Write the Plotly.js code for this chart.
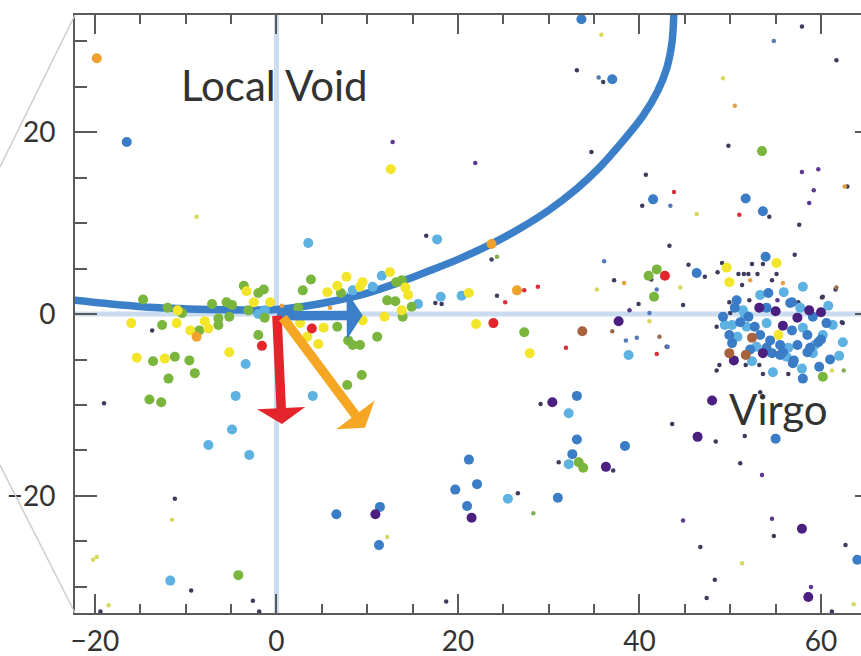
<!DOCTYPE html>
<html>
<head>
<meta charset="utf-8">
<script src="https://cdn.plot.ly/plotly-3.0.1.min.js"></script>
<style>
html,body{margin:0;padding:0;overflow:hidden;background:#fff;}
#chart{width:900px;height:656px;}
</style>
</head>
<body>
<div id="chart"></div>
<script>
// ---------- DATA (supergalactic-like coordinates, Mpc) ----------
const xTickVals = [-20, 0, 20, 40, 60];
const yTickVals = [-20, 0, 20];

// velocity-flow curve
const curveX = [-23, -22.2, -14.8, -7.5, -3.0, 0.0, 3.1, 6.2, 10.0, 13.6, 17.0, 20.0, 23.7, 27.0, 30.0, 33.0, 35.5, 38.0, 40.4, 42.0, 43.0, 43.6, 43.8, 43.85];
const curveY = [1.6, 1.5, 0.8, 0.5, 0.45, 0.5, 0.85, 1.4, 2.3, 3.5, 4.8, 6.0, 7.7, 9.5, 11.4, 13.7, 16.0, 18.8, 21.8, 24.5, 27.0, 30.0, 33.5, 36.0];

// motion vectors
const arrowStartX = [0.05, 0.05, 0.7];
const arrowStartY = [-0.2, -0.2, -0.4];
const arrowEndX = [9.5, 0.6, 9.75];
const arrowEndY = [-0.15, -12.1, -12.5];

// galaxies (big dots) by colour group
const yellowX = [-16.0,-10.9,-11.0,-9.5,-7.9,-7.5,-3.3,-2.5,-0.7,-5.2,-15.4,-12.3,2.6,3.4,4.6,5.2,5.6,6.7,7.7,9.5,9.2,9.5,12.5,14.2,14.5,13.8,11.9,21.2,22.0,27.9,12.6,49.6,49.9,55.1,55.3];
const yellowY = [-1.0,0.4,-1.0,-1.8,-0.8,-1.6,2.5,1.3,1.3,-4.2,-4.8,-4.9,-1.0,-2.5,-3.3,-1.5,2.4,3.1,4.1,3.5,3.0,-0.7,4.6,2.9,2.1,0.4,-0.3,2.3,-1.1,-4.3,15.9,5.1,3.5,5.6,-2.3];

const greenX = [-14.7,-12.0,-10.4,-12.6,-8.5,-6.4,-6.4,-7.1,-5.5,-4.9,-5.2,-3.6,-2.0,-1.4,-3.1,-1.3,-2.0,-13.6,-11.2,-9.6,-11.9,-9.0,-14.0,-12.7,-4.2,3.8,2.9,7.1,13.2,13.8,12.2,13.1,14.9,13.9,11.1,7.9,8.4,9.2,9.4,7.8,6.7,2.4,27.3,41.9,41.0,41.6,53.5,33.3,33.8,60.2];
const greenY = [1.6,0.7,0.1,-1.2,-1.8,-0.5,-1.2,1.1,1.3,1.0,-0.3,3.1,2.3,2.7,0.4,-0.4,-2.3,-5.2,-4.7,-5.1,-7.1,-6.5,-9.4,-9.7,-28.7,3.8,2.6,2.3,3.5,3.7,1.5,1.4,0.8,-0.3,-2.5,-2.9,-3.4,-3.4,-6.7,-7.8,-1.4,0.7,-2.0,4.9,4.2,1.9,17.9,-16.3,-16.9,-6.9];

const lightBlueX = [-2.0,-1.3,-3.4,-4.5,-4.9,-7.5,-3.0,-11.7,3.5,4.0,8.4,10.6,11.6,15.6,17.7,18.1,20.4,32.2,32.2,25.5,38.8,58.0,53.3,55.9,51.4,61.3,50.2,51.8,54.0,58.0,50.8,60.2,62.4,52.9,56.4,56.2,59.1,54.7,57.7,59.3,49.4,51.6,62.0,52.4,57.9,60.8];
const lightBlueY = [0.0,0.4,-5.5,-9.0,-12.7,-14.4,-15.5,-29.3,7.8,-9.0,2.6,3.0,4.2,1.1,8.2,1.9,2.0,-10.9,-16.5,-20.3,-4.5,3.0,2.1,2.4,0.4,-1.2,-1.2,-1.4,-1.0,-1.5,-2.5,-2.3,-3.1,-3.6,-3.7,-4.7,-4.3,-6.4,0.7,-3.4,-1.2,-0.1,-4.6,-5.2,-6.0,0.9];

const blueX = [-16.5,33.6,37.0,41.5,51.7,53.6,33.1,33.1,32.6,21.2,22.1,19.7,21.0,31.0,6.6,11.4,11.3,38.4,55.0,64.0,53.9,46.3,50.7,54.2,56.8,54.0,50.5,59.1,49.2,51.1,52.7,56.8,58.5,49.9,53.3,54.4,59.7,50.2,54.0,55.5,57.4,58.8,54.6,55.5,56.9,58.0,56.6,60.0,58.5,57.0,55.8,52.0,61.0,60.6,52.2,59.8];
const blueY = [18.9,32.4,25.8,12.6,12.7,11.3,-9.0,-13.8,-15.4,-16.0,-18.7,-19.3,-21.1,-20.2,-22.0,-21.2,-25.4,-14.5,-13.7,-27.0,6.3,4.5,1.5,2.3,1.3,0.7,0.7,-0.3,-0.3,-0.9,-1.4,-1.8,-2.3,-2.3,-2.3,-2.9,-3.1,-3.2,-3.7,-3.4,-3.4,-3.7,-4.3,-4.5,-5.4,-7.1,1.2,-2.8,-4.2,-5.1,-4.2,-0.3,-5.0,-1.0,-3.9,-5.8];

const purpleX = [37.7,30.4,21.5,10.9,36.3,46.4,48.0,57.9,58.6,53.2,55.0,57.4,58.7,60.0,55.8,50.4,53.6];
const purpleY = [-0.8,-9.7,-22.4,-22.0,-16.8,-13.5,-9.5,-23.6,-31.1,0.7,0.3,-0.4,0.4,0.2,-1.3,-5.1,-4.3];

const redX = [-1.6,3.9,23.9,42.8];
const redY = [-3.5,-1.6,-1.0,4.2];

const orangeX = [-19.8,23.7,26.5,-8.8];
const orangeY = [28.1,7.7,2.6,-2.5];

const brownX = [33.7,49.9,51.7,52.4];
const brownY = [-1.9,-4.3,-4.5,-2.6];

// faint galaxies (tiny dots) by colour group
const tinyDarkX = [33.1,34.7,40.7,40.3,49.8,61.7,54.3,23.7,18.2,17.5,24.3,37.2,41.3,39.9,43.3,29.1,31.1,26.6,18.7,37.1,43.6,48.4,51.6,51.1,46.7,48.3,47.4,54.8,62.7,61.2,-19.0,-13.7,-9.4,-2.6,-1.9,-19.4,-11.2,57.6,45.4,47.2,48.6,44.8,43.0,61.6,57.1,57.9,62.9,16.5,36.0,49.9,52.1,57.5,60.1,62.4,50.0,48.5,48.8,48.5,51.7,53.2,56.4,53.6,53.3,60.2,62.3,50.9,51.5,52.0,53.0,51.3,52.4,53.6,55.1,54.6,49.1];
const tinyDarkY = [26.8,17.8,15.3,11.9,18.5,27.9,10.7,6.0,1.1,1.2,2.0,3.7,3.8,1.1,7.5,-9.9,-16.3,-19.7,-31.6,-17.2,-12.1,-14.0,-13.4,-16.4,-25.6,-29.2,-31.2,-24.4,-25.4,-32.7,-9.8,-1.8,-30.4,-31.5,-32.7,-32.7,-20.3,9.8,5.4,4.1,4.6,1.0,-3.6,2.7,6.5,31.6,14.0,8.6,25.5,1.3,1.5,1.3,1.8,-1.0,0.1,-1.4,-5.6,-6.2,-5.6,-5.6,-6.6,-6.6,-8.6,1.9,-0.9,4.4,4.4,4.4,4.4,3.2,5.5,5.5,4.4,3.7,5.6];

const tinyPurpleX = [12.8,21.9,57.9,59.7,59.2,58.7,38.9,53.5,44.8,54.6,58.9,55.2];
const tinyPurpleY = [18.9,16.6,15.6,15.9,13.6,12.2,0.4,-17.7,-22.7,-22.5,-30.0,1.5];

const tinyBlueX = [54.8,36.1,41.9,38.5,39.7,43.1,41.1,35.5,43.4];
const tinyBlueY = [30.0,5.8,2.7,-2.9,-2.6,-3.6,0.1,26.0,11.9];

const tinyRedX = [43.8,51.0,25.2,27.3,28.8,31.9,41.9];
const tinyRedY = [13.4,10.9,1.3,2.6,3.0,-3.7,-4.4];

const tinyOrangeX = [50.5,38.3,62.6,52.2,55.8,5.9,0.6];
const tinyOrangeY = [22.9,3.4,14.0,3.7,3.4,0.7,0.9];

const tinyYellowX = [35.8,49.2,46.3,35.3,41.1,44.5,12.2,51.3,63.6,-20.2,-19.8,-18.5,-11.5,-8.8,61.2];
const tinyYellowY = [30.7,25.9,11.0,2.7,-0.8,2.9,-24.5,-27.4,-31.9,-27.0,-26.7,-32.0,-22.6,10.7,-6.2];

const tinyGreenX = [28.3,24.3,62.5];
const tinyGreenY = [-21.9,6.3,-6.2];

const tinyBrownX = [37.0,42.2,61.7];
const tinyBrownY = [-1.9,-2.5,2.9];

const labelTexts = ['Local Void', 'Virgo'];
const labelX = [-0.2, 55.3];
const labelY = [25.2, -10.4];

// ---------- STYLE ----------
const FONT = 'Lato, "Noto Sans", sans-serif';
const BIG = 10, TINY = 4.5;
const W = 900, H = 656;
const M = {l: 75, r: 23, t: 15, b: 43};
const XR = [-22.2, 66.17], YR = [-32.86, 32.86];
const sx = (W - M.l - M.r) / (XR[1] - XR[0]);
const sy = (H - M.t - M.b) / (YR[1] - YR[0]);

function dots(x, y, color, size) {
  return {type: 'scatter', mode: 'markers', x: x, y: y, hoverinfo: 'skip',
          marker: {color: color, size: size, line: {width: 0}}, showlegend: false, cliponaxis: true};
}

const traces = [
  {type: 'scatter', mode: 'lines', x: curveX, y: curveY, hoverinfo: 'skip', showlegend: false,
   line: {color: '#3c7fc9', width: 7.5, shape: 'spline', smoothing: 0.8}},
  dots(tinyDarkX, tinyDarkY, '#3c3c5c', TINY),
  dots(tinyPurpleX, tinyPurpleY, '#5a3a8c', TINY),
  dots(tinyBlueX, tinyBlueY, '#5578b8', TINY),
  dots(tinyRedX, tinyRedY, '#d8303a', TINY),
  dots(tinyOrangeX, tinyOrangeY, '#e9a040', TINY),
  dots(tinyYellowX, tinyYellowY, '#d8d860', TINY),
  dots(tinyGreenX, tinyGreenY, '#80b050', TINY),
  dots(tinyBrownX, tinyBrownY, '#9a6a50', TINY),
  dots(lightBlueX, lightBlueY, '#5eb2e2', BIG),
  dots(blueX, blueY, '#3b7cc6', BIG),
  dots(greenX, greenY, '#7ab53e', BIG),
  dots(yellowX, yellowY, '#f3e52a', BIG),
  dots(purpleX, purpleY, '#4a1f80', BIG),
  dots(redX, redY, '#e2262c', BIG),
  dots(orangeX, orangeY, '#f0a02c', BIG),
  dots(brownX, brownY, '#a8623e', BIG)
];

// arrows as shapes (shaft + head) in data coords
const arrowColors = ['#3c7fc9', '#e3242b', '#f5a623'];
const SHAFT = 9.5, HEADLEN = 16, HEADHALF = 24;
const shapes = [
  {type: 'line', xref: 'x', yref: 'paper', x0: 0, x1: 0, y0: 0, y1: 1, layer: 'below', line: {color: '#c9dcf0', width: 5}},
  {type: 'line', xref: 'paper', yref: 'y', x0: 0, x1: 1, y0: 0, y1: 0, layer: 'below', line: {color: '#c9dcf0', width: 5}},
  {type: 'line', xref: 'paper', yref: 'paper', x0: -M.l / (W - M.l - M.r), y0: (H - M.b - 167) / (H - M.t - M.b), x1: 0, y1: 1, line: {color: '#cccccc', width: 1.5}},
  {type: 'line', xref: 'paper', yref: 'paper', x0: -M.l / (W - M.l - M.r), y0: (H - M.b - 465) / (H - M.t - M.b), x1: 0, y1: 0, line: {color: '#cccccc', width: 1.5}}
];
for (let i = 0; i < arrowStartX.length; i++) {
  const dxp = (arrowEndX[i] - arrowStartX[i]) * sx;
  const dyp = (arrowEndY[i] - arrowStartY[i]) * sy;
  const len = Math.hypot(dxp, dyp);
  const ux = dxp / len, uy = dyp / len;      // unit direction (pixel space, y up)
  const px = -uy, py = ux;                   // perpendicular
  const bx = arrowEndX[i] - ux * HEADLEN / sx, by = arrowEndY[i] - uy * HEADLEN / sy;
  const c1x = bx + px * HEADHALF / sx, c1y = by + py * HEADHALF / sy;
  const c2x = bx - px * HEADHALF / sx, c2y = by - py * HEADHALF / sy;
  shapes.push({type: 'line', xref: 'x', yref: 'y', x0: arrowStartX[i], y0: arrowStartY[i],
               x1: bx + ux * 1 / sx, y1: by + uy * 1 / sy, layer: 'above', line: {color: arrowColors[i], width: SHAFT}});
  shapes.push({type: 'path', xref: 'x', yref: 'y', layer: 'above',
               path: `M${arrowEndX[i]},${arrowEndY[i]} L${c1x},${c1y} L${c2x},${c2y} Z`,
               fillcolor: arrowColors[i], line: {width: 0}});
}

const annotations = labelTexts.map((t, i) => ({
  text: t, x: labelX[i], y: labelY[i], xref: 'x', yref: 'y', showarrow: false,
  xanchor: 'center', yanchor: 'middle', font: {family: FONT, size: 42, color: '#333333'}
}));

const axisCommon = {
  showgrid: false, zeroline: false, showline: true, linecolor: '#5a5a5a', linewidth: 2,
  mirror: 'ticks', ticks: 'inside', tickwidth: 2, tickcolor: '#5a5a5a',
  tickfont: {family: FONT, size: 28, color: '#333333'}, tickmode: 'array', fixedrange: true
};

const layout = {
  width: W, height: H, margin: M, paper_bgcolor: '#ffffff', plot_bgcolor: '#ffffff',
  showlegend: false, hovermode: false,
  xaxis: Object.assign({}, axisCommon, {range: XR, tickvals: xTickVals, ticklen: 19, ticklabelstandoff: 2,
    minor: {tick0: 0, dtick: 5, ticks: 'inside', ticklen: 9, tickwidth: 2, tickcolor: '#5a5a5a', showgrid: false}}),
  yaxis: Object.assign({}, axisCommon, {range: YR, tickvals: yTickVals, ticklen: 22, ticklabelstandoff: 12,
    minor: {tick0: 0, dtick: 5, ticks: 'inside', ticklen: 12, tickwidth: 2, tickcolor: '#5a5a5a', showgrid: false}}),
  shapes: shapes,
  annotations: annotations
};

Plotly.newPlot('chart', traces, layout, {staticPlot: true, displayModeBar: false});
</script>
</body>
</html>
